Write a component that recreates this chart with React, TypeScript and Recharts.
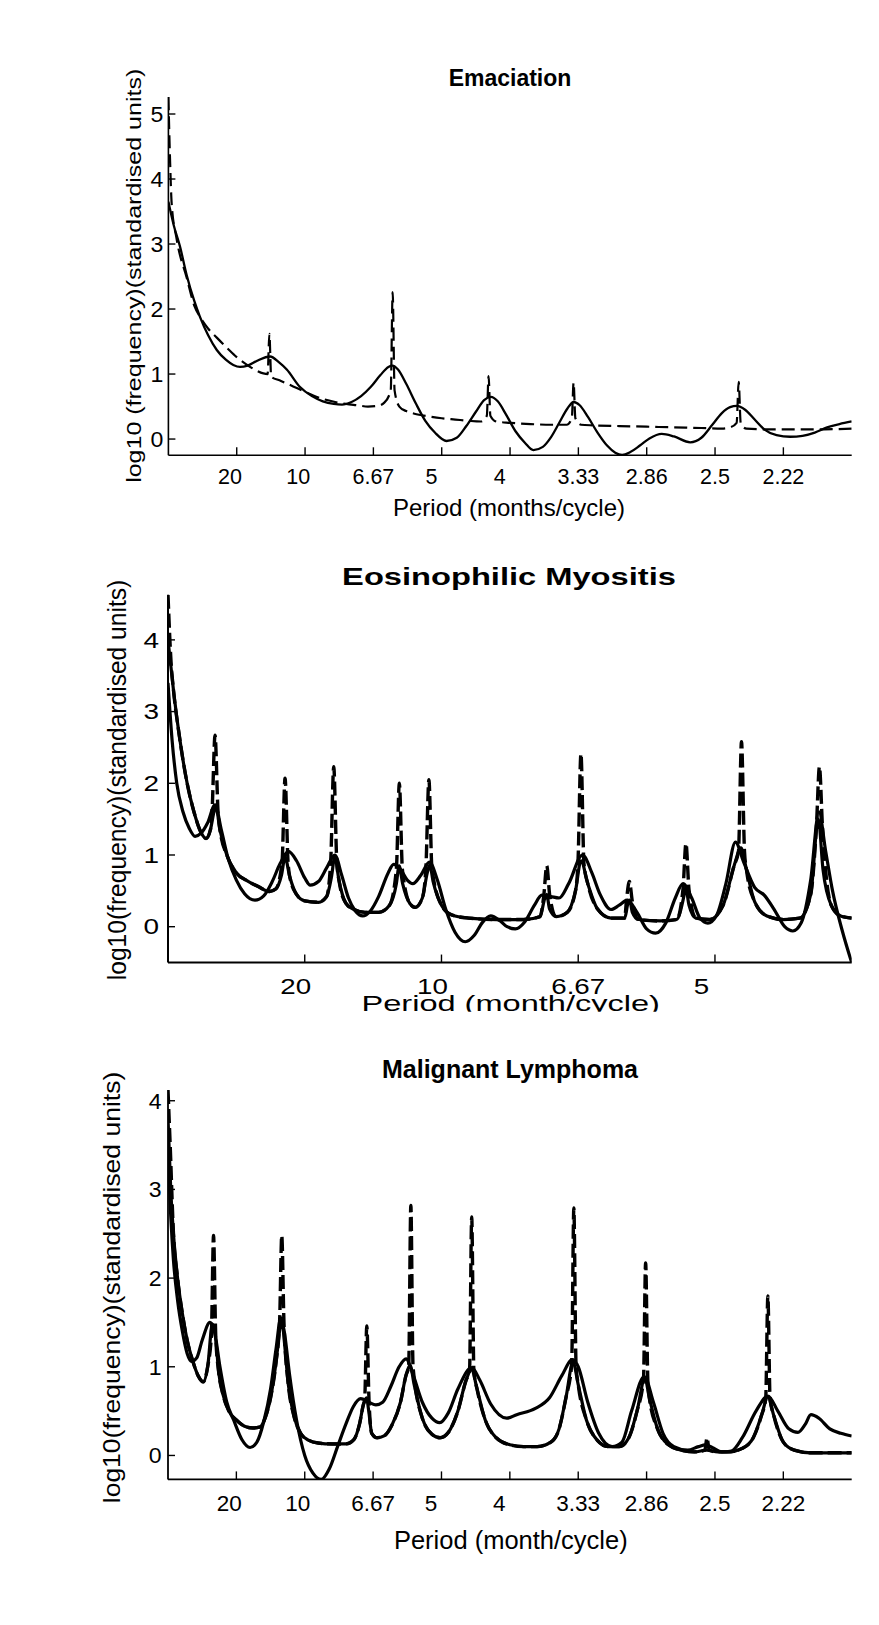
import React from 'react';
import { LineChart, Line, XAxis, YAxis } from 'recharts';

// ---------- Tick values (frequency, cycles/month) and their period labels ----------
const fullTickFreqs = [0.05, 0.1, 0.15, 0.2, 0.25, 0.3, 0.35, 0.4, 0.45];
const fullPeriodLabels = ['20', '10', '6.67', '5', '4', '3.33', '2.86', '2.5', '2.22'];
const myoTickFreqs = [0.05, 0.1, 0.15, 0.2];
const myoPeriodLabels = ['20', '10', '6.67', '5'];
const emaYTicks = [0, 1, 2, 3, 4, 5];
const myoYTicks = [0, 1, 2, 3, 4];
const lymYTicks = [0, 1, 2, 3, 4];

// ---------- Emaciation: [frequency, log10 value] ----------
const emaSolid = [
  [0, 3.65], [0.004, 3.28], [0.0085, 2.96], [0.0134, 2.52], [0.019, 2.12], [0.0231, 1.88], [0.029, 1.6],
  [0.0354, 1.37], [0.042, 1.22], [0.0475, 1.14], [0.0524, 1.11], [0.058, 1.13], [0.0646, 1.2], [0.0744, 1.27],
  [0.081, 1.18], [0.0866, 1.07], [0.0963, 0.8], [0.105, 0.66], [0.113, 0.58], [0.121, 0.54], [0.127, 0.53],
  [0.134, 0.57], [0.141, 0.66], [0.148, 0.8], [0.155, 0.98], [0.161, 1.11], [0.164, 1.13], [0.168, 1.07],
  [0.174, 0.85], [0.181, 0.55], [0.188, 0.28], [0.195, 0.1], [0.2035, -0.03], [0.211, 0.02], [0.218, 0.2],
  [0.225, 0.42], [0.231, 0.6], [0.236, 0.65], [0.241, 0.58], [0.247, 0.38], [0.254, 0.12], [0.261, -0.06],
  [0.267, -0.17], [0.274, -0.12], [0.28, 0.03], [0.286, 0.25], [0.292, 0.47], [0.2965, 0.57], [0.301, 0.52],
  [0.307, 0.34], [0.314, 0.1], [0.321, -0.1], [0.327, -0.21], [0.332, -0.245], [0.338, -0.2], [0.345, -0.1],
  [0.352, 0.01], [0.361, 0.08], [0.37, 0.04], [0.3818, -0.05], [0.39, 0.02], [0.398, 0.22], [0.405, 0.4],
  [0.411, 0.49], [0.416, 0.51], [0.422, 0.45], [0.429, 0.3], [0.436, 0.15], [0.445, 0.06], [0.455, 0.035],
  [0.464, 0.05], [0.473, 0.1], [0.482, 0.18], [0.491, 0.23], [0.5, 0.27],
];
const emaDashed = [
  [0, 5.26], [0.0012, 4.3], [0.0024, 3.62], [0.006, 3.08], [0.0134, 2.48], [0.019, 2.05], [0.0231, 1.88],
  [0.029, 1.7], [0.0354, 1.56], [0.043, 1.4], [0.05, 1.26], [0.057, 1.15], [0.063, 1.07], [0.0695, 1.01],
  [0.0726, 1.0], [0.0739, 1.62], [0.0752, 0.96], [0.0817, 0.9], [0.0913, 0.81], [0.0985, 0.74], [0.106, 0.67],
  [0.114, 0.61], [0.122, 0.57], [0.13, 0.54], [0.138, 0.52], [0.146, 0.5], [0.153, 0.51], [0.158, 0.56],
  [0.1627, 0.75], [0.1641, 2.26], [0.1655, 0.75], [0.169, 0.5], [0.174, 0.43], [0.18, 0.39], [0.19, 0.35],
  [0.2, 0.32], [0.21, 0.3], [0.22, 0.28], [0.2285, 0.27], [0.233, 0.36], [0.2343, 0.97], [0.2356, 0.36],
  [0.24, 0.27], [0.25, 0.25], [0.265, 0.23], [0.28, 0.22], [0.2915, 0.22], [0.2952, 0.32], [0.2965, 0.87],
  [0.2978, 0.32], [0.302, 0.22], [0.311, 0.21], [0.33, 0.2], [0.35, 0.19], [0.37, 0.18], [0.39, 0.17],
  [0.405, 0.16], [0.411, 0.18], [0.4158, 0.25], [0.4173, 0.88], [0.4188, 0.24], [0.423, 0.16], [0.435, 0.15],
  [0.46, 0.15], [0.48, 0.15], [0.5, 0.16],
];

// ---------- Eosinophilic Myositis ----------
const myoBroad = [
  [0, 3.4], [0.0015, 2.6], [0.0032, 2.0], [0.0055, 1.6], [0.0078, 1.37], [0.0099, 1.26], [0.012, 1.3],
  [0.0145, 1.45], [0.0172, 1.7], [0.0195, 1.35], [0.022, 0.95], [0.025, 0.65], [0.028, 0.46], [0.0318, 0.37],
  [0.035, 0.43], [0.038, 0.62], [0.041, 0.88], [0.044, 1.05], [0.047, 0.92], [0.05, 0.68], [0.052, 0.58],
  [0.055, 0.63], [0.058, 0.82], [0.061, 1.0], [0.0635, 0.72], [0.066, 0.4], [0.0685, 0.22], [0.0712, 0.15],
  [0.074, 0.22], [0.077, 0.42], [0.0805, 0.75], [0.0825, 0.87], [0.085, 0.8], [0.0875, 0.65], [0.0895, 0.6],
  [0.0925, 0.72], [0.0956, 0.9], [0.0985, 0.65], [0.1015, 0.25], [0.105, -0.08], [0.1087, -0.21], [0.112, -0.12],
  [0.115, 0.06], [0.118, 0.15], [0.1215, 0.08], [0.124, 0.0], [0.127, -0.03], [0.1305, 0.07], [0.134, 0.3],
  [0.1367, 0.44], [0.14, 0.42], [0.143, 0.4], [0.1465, 0.6], [0.1516, 1.0], [0.155, 0.75], [0.158, 0.45],
  [0.162, 0.24], [0.165, 0.3], [0.168, 0.37], [0.1715, 0.2], [0.175, -0.03], [0.1783, -0.09], [0.182, 0.05],
  [0.1855, 0.4], [0.1883, 0.6], [0.1915, 0.4], [0.1945, 0.12], [0.1974, 0.05], [0.2005, 0.15], [0.204, 0.6],
  [0.2075, 1.18], [0.2105, 0.9], [0.2145, 0.55], [0.218, 0.44], [0.2215, 0.25], [0.2255, 0.0], [0.2285, -0.06],
  [0.2315, 0.05], [0.235, 0.65], [0.238, 1.6], [0.2405, 1.05], [0.243, 0.5], [0.2465, -0.05], [0.25, -0.5],
];
const myoSharp = [
  [0, 4.0], [0.002, 3.3], [0.004, 2.7], [0.007, 2.0], [0.0095, 1.6], [0.012, 1.32], [0.0139, 1.23],
  [0.0155, 1.35], [0.0168, 1.6], [0.0175, 1.68], [0.019, 1.35], [0.0215, 1.0], [0.025, 0.75], [0.029, 0.64],
  [0.033, 0.56], [0.037, 0.49], [0.0395, 0.53], [0.0415, 0.72], [0.0428, 0.97], [0.0445, 0.7], [0.047, 0.45],
  [0.05, 0.36], [0.055, 0.34], [0.058, 0.42], [0.0598, 0.7], [0.061, 0.98], [0.0625, 0.65], [0.065, 0.33],
  [0.068, 0.24], [0.072, 0.2], [0.077, 0.2], [0.081, 0.3], [0.0835, 0.6], [0.0845, 0.85], [0.0858, 0.6],
  [0.0885, 0.32], [0.0904, 0.27], [0.093, 0.4], [0.0948, 0.75], [0.0957, 0.86], [0.097, 0.62], [0.1, 0.3],
  [0.104, 0.16], [0.11, 0.12], [0.12, 0.1], [0.13, 0.1], [0.136, 0.14], [0.1378, 0.4], [0.1385, 0.45],
  [0.1395, 0.25], [0.142, 0.14], [0.146, 0.2], [0.149, 0.5], [0.151, 0.92], [0.1535, 0.6], [0.157, 0.25],
  [0.162, 0.12], [0.167, 0.12], [0.1682, 0.33], [0.1688, 0.37], [0.1698, 0.2], [0.172, 0.1], [0.18, 0.08],
  [0.186, 0.1], [0.1885, 0.4], [0.1893, 0.55], [0.1905, 0.3], [0.193, 0.12], [0.198, 0.1], [0.203, 0.3],
  [0.207, 0.85], [0.2095, 1.1], [0.2115, 0.8], [0.2145, 0.35], [0.219, 0.15], [0.225, 0.1], [0.231, 0.12],
  [0.235, 0.45], [0.2378, 1.5], [0.2395, 0.8], [0.2425, 0.3], [0.246, 0.15], [0.25, 0.12],
];
// [frequency, spike top, spike foot]
const myoSpikes = [
  [0, 4.63, 3.7], [0.0172, 2.67, 1.6], [0.0428, 2.07, 0.9], [0.0606, 2.23, 0.92], [0.0846, 2.0, 0.8],
  [0.0954, 2.05, 0.82], [0.1385, 0.85, 0.43], [0.151, 2.41, 0.88], [0.1687, 0.63, 0.35], [0.1894, 1.16, 0.52],
  [0.2097, 2.58, 1.05], [0.2382, 2.23, 1.4],
];

// ---------- Malignant Lymphoma ----------
const lymBroad = [
  [0, 3.4], [0.002, 2.7], [0.004, 2.2], [0.007, 1.75], [0.0105, 1.4], [0.014, 1.15], [0.0173, 1.06],
  [0.021, 1.1], [0.025, 1.3], [0.0307, 1.5], [0.034, 1.4], [0.038, 1.0], [0.043, 0.6], [0.048, 0.4],
  [0.054, 0.18], [0.06, 0.09], [0.065, 0.15], [0.07, 0.38], [0.075, 0.75], [0.079, 1.2], [0.0825, 1.55],
  [0.085, 1.4], [0.089, 0.9], [0.094, 0.4], [0.1, 0.0], [0.106, -0.2], [0.1121, -0.27], [0.118, -0.15],
  [0.124, 0.1], [0.13, 0.35], [0.1355, 0.55], [0.1409, 0.64], [0.147, 0.6], [0.152, 0.57], [0.157, 0.6],
  [0.163, 0.78], [0.169, 1.0], [0.1741, 1.09], [0.179, 0.92], [0.186, 0.6], [0.193, 0.42], [0.1987, 0.37],
  [0.205, 0.48], [0.212, 0.75], [0.2221, 0.99], [0.228, 0.85], [0.236, 0.58], [0.2477, 0.42], [0.255, 0.46],
  [0.2687, 0.53], [0.279, 0.65], [0.288, 0.9], [0.2957, 1.08], [0.3, 1.0], [0.307, 0.6], [0.315, 0.25],
  [0.3248, 0.1], [0.332, 0.15], [0.339, 0.5], [0.3483, 0.89], [0.355, 0.6], [0.362, 0.25], [0.37, 0.1],
  [0.38, 0.06], [0.388, 0.1], [0.393, 0.12], [0.398, 0.09], [0.405, 0.04], [0.412, 0.05], [0.42, 0.2],
  [0.43, 0.5], [0.4387, 0.67], [0.446, 0.5], [0.454, 0.3], [0.4607, 0.26], [0.466, 0.35], [0.4702, 0.46],
  [0.476, 0.42], [0.484, 0.3], [0.492, 0.25], [0.5, 0.22],
];
const lymSharp = [
  [0, 3.8], [0.002, 3.0], [0.004, 2.5], [0.007, 2.0], [0.0105, 1.6], [0.014, 1.3], [0.018, 1.07],
  [0.022, 0.9], [0.0259, 0.83], [0.029, 1.0], [0.0325, 1.48], [0.035, 1.3], [0.037, 0.95], [0.04, 0.7],
  [0.0445, 0.5], [0.05, 0.4], [0.056, 0.33], [0.062, 0.31], [0.067, 0.32], [0.071, 0.42], [0.075, 0.65],
  [0.079, 1.05], [0.082, 1.45], [0.0832, 1.55], [0.085, 1.3], [0.088, 0.8], [0.092, 0.45], [0.097, 0.25],
  [0.103, 0.17], [0.11, 0.14], [0.12, 0.13], [0.13, 0.13], [0.136, 0.18], [0.14, 0.35], [0.143, 0.58],
  [0.1452, 0.65], [0.1468, 0.5], [0.149, 0.25], [0.153, 0.2], [0.158, 0.22], [0.164, 0.35], [0.17, 0.6],
  [0.174, 0.9], [0.177, 1.02], [0.18, 0.8], [0.186, 0.42], [0.193, 0.24], [0.199, 0.2], [0.205, 0.26],
  [0.212, 0.5], [0.218, 0.85], [0.2221, 0.97], [0.226, 0.75], [0.232, 0.4], [0.24, 0.2], [0.25, 0.12],
  [0.26, 0.1], [0.27, 0.1], [0.28, 0.15], [0.286, 0.3], [0.291, 0.65], [0.2962, 1.05], [0.3, 0.8],
  [0.306, 0.4], [0.314, 0.17], [0.322, 0.1], [0.33, 0.1], [0.337, 0.2], [0.343, 0.5], [0.3488, 0.87],
  [0.352, 0.65], [0.358, 0.3], [0.366, 0.12], [0.375, 0.06], [0.385, 0.04], [0.394, 0.06], [0.402, 0.04],
  [0.41, 0.04], [0.42, 0.08], [0.428, 0.2], [0.434, 0.45], [0.4387, 0.66], [0.443, 0.45], [0.45, 0.15],
  [0.458, 0.06], [0.47, 0.03], [0.49, 0.03], [0.5, 0.03],
];
const lymSpikes = [
  [0, 4.12, 3.5], [0.0333, 2.48, 1.35], [0.0832, 2.48, 1.5], [0.1454, 1.46, 0.62], [0.1776, 2.82, 1.0],
  [0.2221, 2.69, 0.95], [0.2968, 2.79, 1.02], [0.3493, 2.17, 0.85], [0.3942, 0.2, 0.06], [0.4387, 1.8, 0.64],
];

// ---------- helpers ----------
const FONT = '"Liberation Sans", Arial, Helvetica, sans-serif';
type Pt = { f: number; v: number };
const toPts = (rows: number[][]): Pt[] => rows.map(([f, v]) => ({ f, v }));

function withSpikes(base: number[][], spikes: number[][], half: number): Pt[] {
  const keep = base.filter(([f]) => !spikes.some(([sf]) => Math.abs(sf - f) <= half * 1.5));
  const add: number[][] = [];
  spikes.forEach(([sf, top, foot]) => {
    if (sf - half >= 0) add.push([sf - half, foot]);
    add.push([sf, top]);
    add.push([sf + half, foot]);
  });
  return toPts([...keep, ...add].sort((a, b) => a[0] - b[0]));
}

type XT = { fs: number; sx: number; base: number; padK: number };
type YT = { fs: number; sx: number; gap: number };

function makeXTick(freqs: number[], labels: string[], t: XT) {
  return (props: any) => {
    const { x, y, payload } = props;
    const i = freqs.findIndex((f) => Math.abs(f - payload.value) < 1e-9);
    const s = i >= 0 ? labels[i] : '';
    const dx = s.includes('.') ? 0 : -(4 - s.length) * t.padK;
    return (
      <g>
        <line x1={x} x2={x} y1={y} y2={y - 8} stroke="#000" strokeWidth={1.4} />
        <text
          transform={`translate(${x + dx},${y + t.base}) scale(${t.sx},1)`}
          textAnchor="middle"
          fontSize={t.fs}
          fontFamily={FONT}
          fill="#000"
        >
          {s}
        </text>
      </g>
    );
  };
}

function makeYTick(t: YT) {
  return (props: any) => {
    const { x, y, payload } = props;
    return (
      <g>
        <line x1={x} x2={x + 7} y1={y} y2={y} stroke="#000" strokeWidth={1.4} />
        <text
          transform={`translate(${x - t.gap},${y + t.fs * 0.36}) scale(${t.sx},1)`}
          textAnchor="end"
          fontSize={t.fs}
          fontFamily={FONT}
          fill="#000"
        >
          {payload.value}
        </text>
      </g>
    );
  };
}

type LineSpec = { data: Pt[]; w: number; dash?: string };

function Panel(props: {
  top: number;
  height: number;
  margin: { top: number; right: number; bottom: number; left: number };
  xDomain: [number, number];
  xTicks: number[];
  xLabels: string[];
  yDomain: [number, number];
  yTicks: number[];
  xt: XT;
  yt: YT;
  axisW: number;
  lines: LineSpec[];
}) {
  const p = props;
  return (
    <div style={{ position: 'absolute', left: 0, top: p.top, width: 879, height: p.height }}>
      <LineChart width={879} height={p.height} margin={p.margin}>
        <XAxis
          type="number"
          dataKey="f"
          domain={p.xDomain}
          ticks={p.xTicks}
          interval={0}
          allowDataOverflow
          tickSize={0}
          tickMargin={0}
          tickLine={false}
          axisLine={{ stroke: '#000', strokeWidth: p.axisW }}
          tick={makeXTick(p.xTicks, p.xLabels, p.xt)}
          height={30}
        />
        <YAxis
          type="number"
          domain={p.yDomain}
          ticks={p.yTicks}
          interval={0}
          allowDataOverflow
          tickSize={0}
          tickMargin={0}
          tickLine={false}
          axisLine={{ stroke: '#000', strokeWidth: p.axisW }}
          tick={makeYTick(p.yt)}
          width={60}
        />
        {p.lines.map((l, i) => (
          <Line
            key={i}
            data={l.data}
            dataKey="v"
            type="monotone"
            stroke="#000"
            strokeWidth={l.w}
            strokeDasharray={l.dash}
            dot={false}
            activeDot={false}
            isAnimationActive={false}
          />
        ))}
      </LineChart>
    </div>
  );
}

function YLabel(props: { x: number; y: number; fs: number; sy: number; text: string }) {
  return (
    <text
      transform={`translate(${props.x},${props.y}) rotate(-90) scale(1,${props.sy})`}
      textAnchor="middle"
      fontSize={props.fs}
      fontFamily={FONT}
      fill="#000"
    >
      {props.text}
    </text>
  );
}

export default function App() {
  const myoDashed = withSpikes(myoSharp, myoSpikes, 0.0011);
  const lymDashed = withSpikes(lymSharp, lymSpikes, 0.0016);
  return (
    <div style={{ position: 'absolute', left: 0, top: 0, width: 879, height: 1625, background: '#fff' }}>
      <Panel
        top={0}
        height={520}
        margin={{ top: 97.1, right: 27.3, bottom: 34.7, left: 108.4 }}
        xDomain={[0, 0.5]}
        xTicks={fullTickFreqs}
        xLabels={fullPeriodLabels}
        yDomain={[-0.25, 5.26]}
        yTicks={emaYTicks}
        xt={{ fs: 21.5, sx: 1, base: 28.7, padK: 3.4 }}
        yt={{ fs: 22, sx: 1.05, gap: 5 }}
        axisW={1.6}
        lines={[
          { data: toPts(emaDashed), w: 2.2, dash: '13 6' },
          { data: toPts(emaSolid), w: 2.3 },
        ]}
      />
      <Panel
        top={530}
        height={470}
        margin={{ top: 64.7, right: 27.3, bottom: 7.45, left: 108 }}
        xDomain={[0, 0.25]}
        xTicks={myoTickFreqs}
        xLabels={myoPeriodLabels}
        yDomain={[-0.5, 4.63]}
        yTicks={myoYTicks}
        xt={{ fs: 22, sx: 1.26, base: 31.5, padK: 4.5 }}
        yt={{ fs: 21.5, sx: 1.3, gap: 9 }}
        axisW={2}
        lines={[
          { data: myoDashed, w: 3.4, dash: '14 5' },
          { data: toPts(myoBroad), w: 3.2 },
          { data: toPts(myoSharp), w: 3.2 },
        ]}
      />
      <Panel
        top={1020}
        height={560}
        margin={{ top: 70.1, right: 27.3, bottom: 70.6, left: 108 }}
        xDomain={[0, 0.5]}
        xTicks={fullTickFreqs}
        xLabels={fullPeriodLabels}
        yDomain={[-0.27, 4.12]}
        yTicks={lymYTicks}
        xt={{ fs: 22.5, sx: 1, base: 31.8, padK: 3.5 }}
        yt={{ fs: 22, sx: 1.05, gap: 6.5 }}
        axisW={1.8}
        lines={[
          { data: lymDashed, w: 3.4, dash: '14 5' },
          { data: toPts(lymBroad), w: 3.2 },
          { data: toPts(lymSharp), w: 3.2 },
        ]}
      />
      <svg
        width={879}
        height={1625}
        style={{ position: 'absolute', left: 0, top: 0, pointerEvents: 'none' }}
      >
        <defs>
          <clipPath id="myoLabelClip">
            <rect x={0} y={0} width={879} height={1011.7} />
          </clipPath>
        </defs>
        <text x={510} y={86} textAnchor="middle" fontSize={23} fontWeight="bold" fontFamily={FONT} fill="#000">
          Emaciation
        </text>
        <text x={509} y={516} textAnchor="middle" fontSize={24} fontFamily={FONT} fill="#000">
          Period (months/cycle)
        </text>
        <YLabel x={140.9} y={275.8} fs={25} sy={0.82} text="log10 (frequency)(standardised units)" />

        <text
          transform="translate(509,585) scale(1.42,1)"
          textAnchor="middle"
          fontSize={23}
          fontWeight="bold"
          fontFamily={FONT}
          fill="#000"
        >
          Eosinophilic Myositis
        </text>
        <g clipPath="url(#myoLabelClip)">
          <text
            transform="translate(510.7,1010.7) scale(1.48,1)"
            textAnchor="middle"
            fontSize={22}
            fontFamily={FONT}
            fill="#000"
          >
            Period (month/cycle)
          </text>
        </g>
        <YLabel x={126.4} y={780} fs={24.6} sy={1.08} text="log10(frequency)(standardised units)" />

        <text x={510} y={1078.3} textAnchor="middle" fontSize={25} fontWeight="bold" fontFamily={FONT} fill="#000">
          Malignant Lymphoma
        </text>
        <text x={510.8} y={1549} textAnchor="middle" fontSize={25.5} fontFamily={FONT} fill="#000">
          Period (month/cycle)
        </text>
        <YLabel x={120.1} y={1287.5} fs={26.5} sy={0.88} text="log10(frequency)(standardised units)" />
      </svg>
    </div>
  );
}
